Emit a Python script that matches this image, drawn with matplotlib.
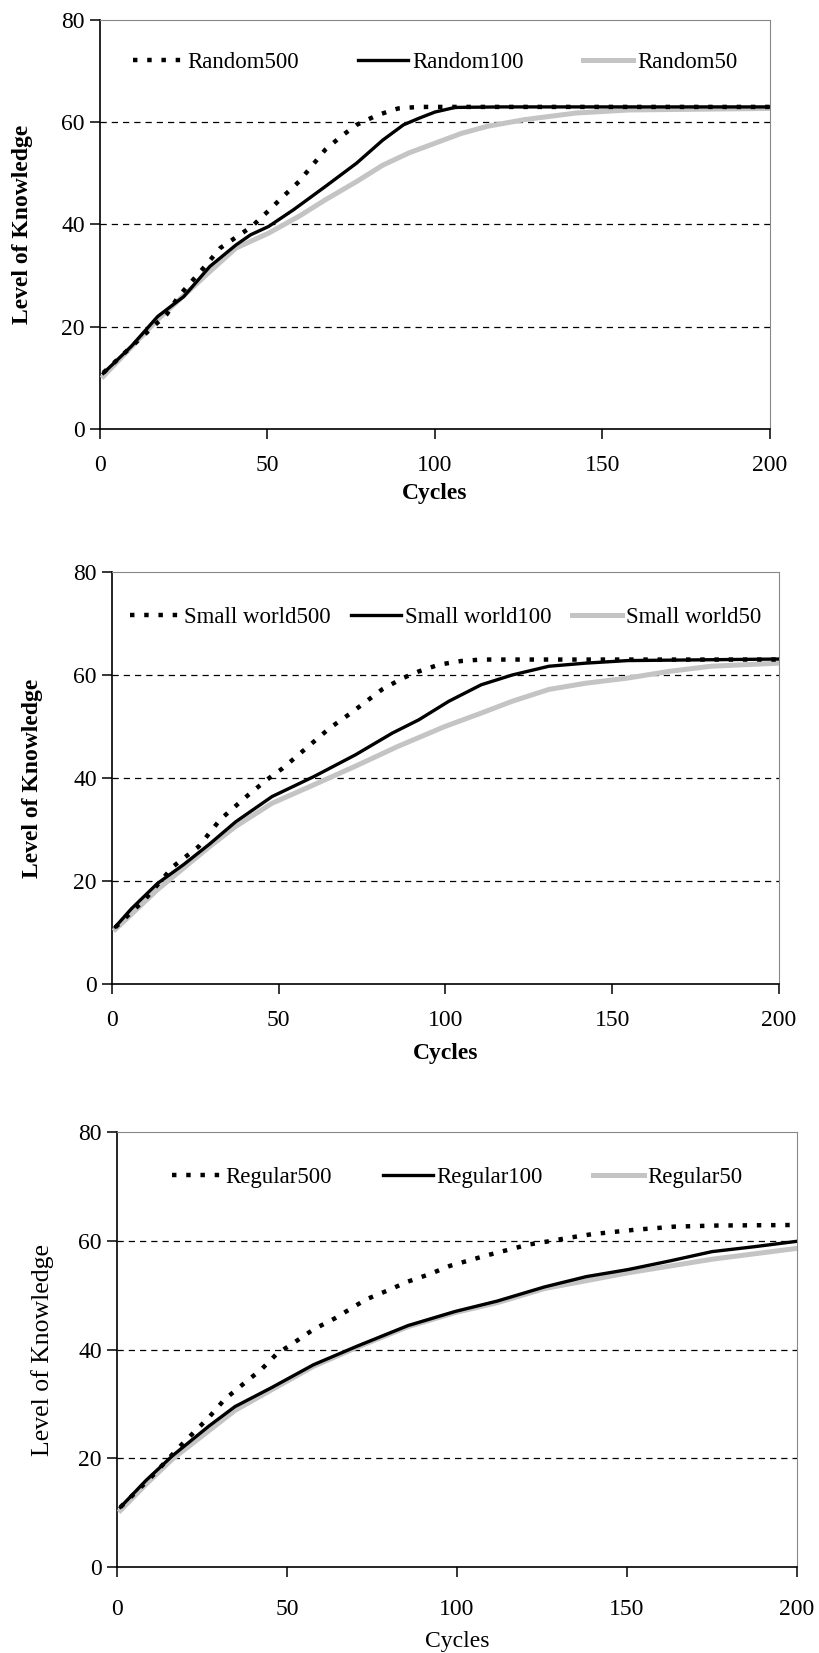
import matplotlib
matplotlib.use("Agg")
import matplotlib.pyplot as plt
import matplotlib.transforms as mtransforms

plt.rcParams['font.family'] = ['Liberation Serif', 'DejaVu Serif']

# ---- Random ----
rnd500_x = [1, 10, 20, 23.4, 31.3, 35.9, 45.3, 50, 54.7, 59.4, 67.2, 71.9, 76.6, 82.8, 89, 95, 110, 150, 200]
rnd500_y = [11, 16.5, 22.5, 25.9, 31.8, 35.4, 39.6, 42.5, 45.5, 48.4, 54.6, 57.2, 59.5, 61.4, 62.7, 63, 63, 63, 63]
rnd100_x = [1, 9.4, 17.2, 25, 32.8, 40.6, 45, 50.3, 57.8, 67.2, 76.6, 84.4, 90.6, 95.3, 100, 106, 120, 150, 200]
rnd100_y = [10.9, 16.2, 22, 25.9, 31.8, 36, 38, 39.6, 42.9, 47.4, 52, 56.5, 59.5, 60.8, 62, 62.9, 63, 63, 63]
rnd50_x = [1, 17.2, 32.8, 40.6, 50.3, 59.4, 67.2, 76.6, 84.4, 92.2, 100, 107.8, 115.6, 126.6, 142, 158, 200]
rnd50_y = [10.3, 21.4, 30.8, 35.4, 38.3, 41.6, 44.8, 48.4, 51.6, 54, 55.9, 57.8, 59.2, 60.5, 61.8, 62.4, 62.7]

# ---- Small world ----
sw500_x = [1, 10, 18.3, 26, 32.4, 40.3, 46.5, 51.2, 55.9, 60.6, 65.3, 71.6, 76.3, 81, 87.2, 92, 98, 104.5, 110.7, 150, 200]
sw500_y = [11, 16.5, 22.8, 26.7, 31.9, 36.4, 39.7, 41.9, 44.5, 47.1, 49.7, 52.6, 54.9, 57.2, 59.4, 60.7, 62, 62.7, 63, 63, 63]
sw100_x = [1, 5.8, 13.6, 21.5, 29.3, 37.1, 48, 60.6, 73, 84, 92, 101, 110.7, 120, 131, 142, 154.6, 200]
sw100_y = [11.1, 14.6, 19.5, 23.2, 27.2, 31.5, 36.4, 40.3, 44.5, 48.7, 51.3, 54.9, 58.1, 60, 61.7, 62.3, 62.8, 63.1]
sw50_x = [1, 13.6, 29.3, 37.1, 48, 60.6, 73, 85.6, 99.8, 110.7, 120, 131, 142, 154.6, 167, 179.6, 200]
sw50_y = [10.6, 18.3, 26.7, 30.6, 35.1, 38.7, 42.3, 46.1, 50, 52.6, 54.9, 57.2, 58.4, 59.4, 60.7, 61.7, 62.3]

# ---- Regular ----
reg500_x = [1, 10, 19.3, 27, 31.6, 37.8, 42.4, 47, 51.7, 57.8, 64, 73.2, 79.4, 85.6, 91.7, 98, 108.7, 121, 127, 133.4, 139.6, 152, 164, 176.6, 200]
reg500_y = [11, 16.5, 22.7, 27.5, 30.8, 34, 36.3, 39.2, 41.1, 43.7, 45.7, 49.2, 50.8, 52.5, 53.8, 55.4, 57.3, 59.3, 59.9, 60.6, 61.2, 62, 62.6, 62.8, 62.9]
reg100_x = [1, 8.5, 16.2, 27, 34.7, 45.5, 57.8, 70.2, 85.6, 99.5, 111.8, 125.7, 138, 150.3, 162.7, 175, 187.4, 200]
reg100_y = [11, 15.9, 20.4, 25.9, 29.5, 33, 37.2, 40.5, 44.4, 47, 48.9, 51.5, 53.4, 54.7, 56.3, 58, 58.9, 59.9]
reg50_x = [1, 8.5, 16.2, 34.7, 45.5, 57.8, 70.2, 85.6, 99.5, 111.8, 125.7, 150.3, 175, 200]
reg50_y = [10.4, 15.2, 19.8, 28.8, 32.6, 36.9, 40.3, 44.2, 46.8, 48.6, 51.2, 54.1, 56.6, 58.6]

panels = [
    dict(rect=[100, 20, 770, 429], names=['Random500', 'Random100', 'Random50'],
         series=[(rnd500_x, rnd500_y), (rnd100_x, rnd100_y), (rnd50_x, rnd50_y)],
         bold=True, colsp=2.6, ylx=23, yls=17, xpad=12, xlp=5, legy=0.895),
    dict(rect=[112, 572, 779, 984], names=['Small world500', 'Small world100', 'Small world50'],
         series=[(sw500_x, sw500_y), (sw100_x, sw100_y), (sw50_x, sw50_y)],
         bold=True, colsp=0.9, ylx=33, yls=17, xpad=12, xlp=8, legy=0.89),
    dict(rect=[117, 1132, 797, 1567], names=['Regular500', 'Regular100', 'Regular50'],
         series=[(reg500_x, reg500_y), (reg100_x, reg100_y), (reg50_x, reg50_y)],
         bold=False, colsp=2.2, ylx=43, yls=18.5, xpad=16, xlp=8, legy=0.895),
]

W, H = 820, 1653
fig = plt.figure(figsize=(W / 100, H / 100), dpi=100)

for p in panels:
    l, t, r, b = p['rect']
    ax = fig.add_axes([l / W, 1 - b / H, (r - l) / W, (b - t) / H])
    (x5, y5), (x1, y1), (x0, y0) = p['series']
    ax.plot(x0, y0, color='#c4c4c4', lw=3.6, label=p['names'][2], zorder=3)
    ax.plot(x1, y1, color='black', lw=2.4, label=p['names'][1], zorder=4)
    ax.plot(x5, y5, color='black', lw=3.2, linestyle=(0, (1, 2.2)),
            dash_capstyle='butt', label=p['names'][0], zorder=5)

    ax.set_xlim(0, 200)
    ax.set_ylim(0, 80)
    ax.set_xticks([0, 50, 100, 150, 200])
    ax.set_yticks([0, 20, 40, 60, 80])
    for v in [20, 40, 60]:
        ax.axhline(v, color='black', lw=0.9, linestyle=(0, (5, 4)), zorder=1)
    ax.spines['top'].set_color('#888888')
    ax.spines['right'].set_color('#888888')
    ax.spines['left'].set_linewidth(1.2)
    ax.spines['bottom'].set_linewidth(1.2)
    ax.tick_params(direction='out', length=7, width=1.1, labelsize=17, pad=4)
    ax.tick_params(axis='x', pad=p['xpad'])

    weight = 'bold' if p['bold'] else 'normal'
    ax.set_xlabel('Cycles', fontsize=17, fontweight=weight, labelpad=p['xlp'])
    ax.set_ylabel('Level of Knowledge', fontsize=p['yls'], fontweight=weight)
    blend = mtransforms.blended_transform_factory(fig.transFigure, ax.transAxes)
    ax.yaxis.set_label_coords(p['ylx'] / W, 0.5, transform=blend)
    ax.yaxis.label.set_verticalalignment('center')

    h, lab = ax.get_legend_handles_labels()
    order = [2, 1, 0]
    ax.legend([h[i] for i in order], [lab[i] for i in order], ncol=3, frameon=False,
              loc='center', bbox_to_anchor=(0.5, p['legy']), fontsize=16.5,
              handlelength=2.2, handletextpad=0.15, columnspacing=p['colsp'])

fig.savefig('out.png', dpi=100)
